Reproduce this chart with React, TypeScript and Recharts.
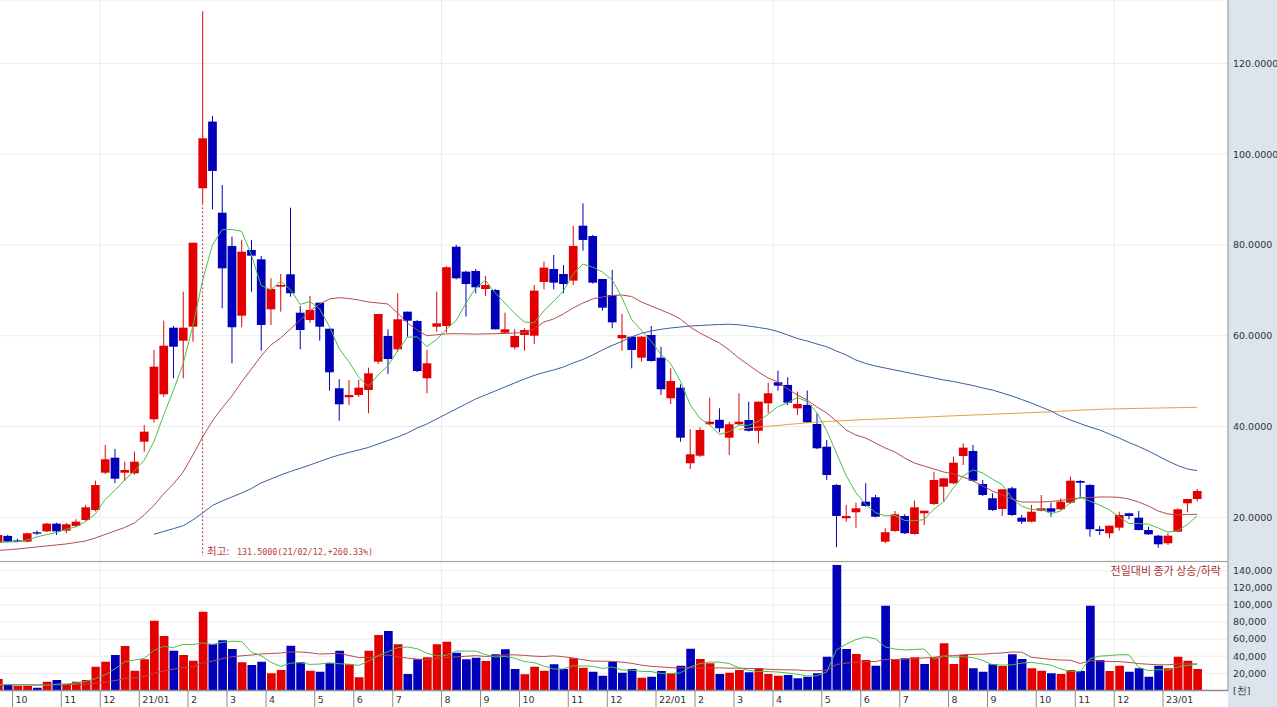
import React from 'react';
import { ComposedChart, Bar, Line, XAxis, YAxis, CartesianGrid, ReferenceLine, Cell } from 'recharts';

// ---------- categories (weekly, Friday dates) ----------
const weeks = [
  '2020/09/18','2020/09/25',
  '2020/10/02','2020/10/09','2020/10/16','2020/10/23','2020/10/30',
  '2020/11/06','2020/11/13','2020/11/20','2020/11/27',
  '2020/12/04','2020/12/11','2020/12/18','2020/12/25',
  '2021/01/01','2021/01/08','2021/01/15','2021/01/22','2021/01/29',
  '2021/02/05','2021/02/12','2021/02/19','2021/02/26',
  '2021/03/05','2021/03/12','2021/03/19','2021/03/26',
  '2021/04/02','2021/04/09','2021/04/16','2021/04/23','2021/04/30',
  '2021/05/07','2021/05/14','2021/05/21','2021/05/28',
  '2021/06/04','2021/06/11','2021/06/18','2021/06/25',
  '2021/07/02','2021/07/09','2021/07/16','2021/07/23','2021/07/30',
  '2021/08/06','2021/08/13','2021/08/20','2021/08/27',
  '2021/09/03','2021/09/10','2021/09/17','2021/09/24',
  '2021/10/01','2021/10/08','2021/10/15','2021/10/22','2021/10/29',
  '2021/11/05','2021/11/12','2021/11/19','2021/11/26',
  '2021/12/03','2021/12/10','2021/12/17','2021/12/24','2021/12/31',
  '2022/01/07','2022/01/14','2022/01/21','2022/01/28',
  '2022/02/04','2022/02/11','2022/02/18','2022/02/25',
  '2022/03/04','2022/03/11','2022/03/18','2022/03/25',
  '2022/04/01','2022/04/08','2022/04/15','2022/04/22','2022/04/29',
  '2022/05/06','2022/05/13','2022/05/20','2022/05/27',
  '2022/06/03','2022/06/10','2022/06/17','2022/06/24',
  '2022/07/01','2022/07/08','2022/07/15','2022/07/22','2022/07/29',
  '2022/08/05','2022/08/12','2022/08/19','2022/08/26',
  '2022/09/02','2022/09/09','2022/09/16','2022/09/23','2022/09/30',
  '2022/10/07','2022/10/14','2022/10/21','2022/10/28',
  '2022/11/04','2022/11/11','2022/11/18','2022/11/25',
  '2022/12/02','2022/12/09','2022/12/16','2022/12/23','2022/12/30',
  '2023/01/06','2023/01/13','2023/01/20','2023/01/27',
];

// ---------- price series ----------
const openPrices = [
  14400, 15900, 14900, 14625, 16700, 16900, 18600, 17060, 18100, 19400,
  21600, 29825, 33130, 29825, 29690, 36650, 41590, 47100, 61770, 58900,
  61990, 92480, 107180, 87100, 79770, 64410, 78890, 76830, 65820, 70800,
  73530, 65070, 63470, 67270, 61550, 48420, 46440, 46950, 48040, 54280,
  59940, 57010, 65300, 63240, 50620, 61990, 62150, 79610, 74110, 74260,
  70290, 70070, 60670, 57450, 60160, 60010, 71830, 74700, 73600, 72140,
  84240, 81960, 72500, 68970, 59430, 59780, 55160, 60160, 55160, 46220,
  48550, 31900, 33570, 40490, 41480, 37540, 40490, 41430, 39060, 45110,
  49740, 49140, 44010, 44740, 40550, 35550, 27120, 19780, 21100, 23440,
  24410, 14630, 16980, 20290, 16320, 20880, 22930, 26740, 27490, 33500,
  34610, 27340, 24190, 21830, 26390, 19910, 19030, 21450, 21980, 21760,
  23220, 28000, 27120, 17360, 16480, 17710, 20880, 19910, 17200, 15950,
  14270, 16830, 23080, 24030,
];
const highPrices = [
  16300, 16100, 15300, 16600, 17100, 18750, 18800, 18800, 19560, 22710,
  28060, 35930, 35050, 32250, 34450, 40300, 56860, 63310, 62140, 69700,
  80490, 131500, 108400, 93200, 81820, 81100, 81100, 77560, 72650, 73600,
  88200, 66540, 68750, 67270, 61550, 50400, 50250, 50250, 52960, 64780,
  61420, 69350, 65300, 63500, 56860, 69700, 75300, 80000, 74300, 74700,
  73160, 70300, 65070, 61410, 61640, 71170, 76310, 77780, 75580, 84170,
  89170, 82200, 72500, 74480, 64780, 59780, 59900, 62140, 57580, 52820,
  49300, 39390, 39830, 46350, 44010, 41060, 47320, 45470, 45470, 49650,
  52300, 50840, 47670, 47900, 42910, 37030, 27300, 22710, 23220, 27490,
  24910, 17580, 21370, 20660, 23660, 21450, 30050, 28590, 33350, 36300,
  35930, 28220, 25290, 26170, 26740, 20510, 22710, 24910, 23220, 24190,
  28940, 28200, 27300, 18080, 18150, 21230, 21010, 21390, 17930, 16100,
  16480, 21980, 24030, 26230,
];
const lowPrices = [
  14200, 14500, 14700, 14500, 16100, 16700, 16100, 16500, 17900, 19200,
  21300, 29500, 27490, 28000, 29400, 34450, 40840, 46570, 50620, 50620,
  58680, 89170, 87850, 66040, 53920, 61860, 69700, 56700, 62370, 65300,
  68600, 57000, 62870, 58900, 47900, 41280, 44740, 46500, 42910, 53800,
  51570, 56500, 59780, 52000, 47320, 60890, 60670, 72400, 64230, 69350,
  68750, 61410, 60370, 57000, 56700, 58170, 70220, 70220, 69350, 71170,
  78730, 71500, 65520, 61640, 56700, 52820, 54290, 54300, 46950, 44960,
  36650, 30640, 33300, 40300, 38730, 33730, 40300, 38900, 36300, 42910,
  47900, 44740, 42540, 40800, 35000, 28220, 13390, 19030, 17710, 22300,
  20000, 14270, 16800, 16300, 16200, 18300, 22700, 23440, 27300, 31520,
  27900, 24700, 21400, 20290, 20300, 18520, 18900, 21300, 20130, 21600,
  23000, 24190, 15730, 16100, 15370, 17050, 19560, 17100, 16100, 13300,
  13900, 16700, 21100, 23440,
];
const closePrices = [
  16100, 14650, 14800, 16475, 16400, 18600, 16900, 18460, 19030, 22200,
  27100, 32780, 28500, 30420, 32250, 38860, 53180, 57800, 57580, 61770,
  80490, 103500, 96300, 74850, 61860, 78510, 77630, 62370, 70290, 71170,
  69350, 61260, 65670, 61990, 51940, 44890, 46950, 48550, 51720, 64780,
  54870, 63620, 63310, 52220, 53920, 62730, 75090, 72650, 71390, 70670,
  71170, 61410, 61410, 59940, 61260, 69940, 75000, 71690, 71390, 79770,
  81100, 71690, 66180, 62950, 60160, 56860, 59780, 54430, 48200, 50030,
  37540, 33880, 39230, 41060, 39610, 40490, 41060, 39060, 45470, 47320,
  48990, 45250, 44960, 40930, 35200, 29320, 20290, 20290, 21980, 22490,
  20130, 16700, 20660, 16480, 22200, 21450, 28220, 28590, 32030, 35350,
  28060, 24910, 21610, 26170, 20510, 19030, 21230, 21980, 21230, 23440,
  28060, 27620, 17360, 16980, 18150, 20510, 20290, 17200, 16250, 14050,
  15950, 21760, 24030, 25790,
];

// moving averages of price
const priceMA5 = [
  14500, 14550, 14600, 15000, 15685, 16185, 16635, 17367, 17878, 19038,
  20738, 23914, 25922, 28200, 30210, 32562, 36642, 42502, 47934, 53838,
  62164, 72228, 79928, 83382, 83400, 83004, 77830, 71044, 70132, 71994,
  70162, 66888, 67548, 65888, 62042, 57150, 54288, 50864, 48810, 51378,
  53374, 56708, 59660, 59760, 57588, 59160, 61454, 63322, 67156, 70506,
  72194, 69458, 67210, 64920, 63038, 62792, 65510, 67566, 69856, 73558,
  75790, 75128, 74026, 72338, 68416, 63568, 61186, 58836, 55886, 53860,
  49996, 44816, 41776, 40348, 38264, 38854, 40290, 40256, 41138, 42680,
  44380, 45218, 46398, 45490, 43066, 39132, 34140, 29206, 25416, 22874,
  21036, 20318, 20392, 19292, 19234, 19498, 21802, 23388, 26498, 29128,
  30450, 29788, 28392, 27220, 24252, 22446, 21710, 21784, 20796, 21382,
  23188, 24466, 23542, 22692, 21634, 20124, 18658, 18626, 18480, 17660,
  16748, 17042, 18408, 20316,
];
const priceMA20 = [
  12690, 12840, 13020, 13240, 13460, 13680, 13900, 14120, 14450, 14780,
  15440, 16210, 16980, 17750, 18740, 20510, 22600, 25130, 27340, 29980,
  33730, 37690, 41210, 44080, 46720, 49810, 52670, 55530, 57960, 59500,
  61480, 63460, 65450, 66990, 68090, 68380, 68200, 67870, 67430, 67210,
  66990, 65000, 62800, 61260, 60000, 60200, 60400, 60450, 60400, 60350,
  60400, 60450, 60500, 60600, 60710, 61480, 63020, 63690, 64790, 66110,
  67210, 68090, 68530, 68860, 68970, 68640, 67430, 66550, 65670, 64790,
  63690, 61920, 60600, 59500, 58400, 56860, 55090, 53550, 52010, 50690,
  49810, 48260, 46940, 45840, 44300, 42980, 41210, 39230, 38130, 37470,
  36370, 35270, 34390, 33060, 31960, 31300, 30640, 29980, 29540, 28880,
  28000, 26900, 25790, 24910, 24030, 23370, 23370, 23370, 23480, 23700,
  24030, 24250, 24360, 24470, 24470, 24400, 24030, 23370, 22490, 21390,
  20730, 20510, 20620, 20660,
];
const priceMA60 = [
  ...Array(16).fill(null),
  16250, 16870, 17490, 18130, 19410, 20950, 22600, 23590, 24470, 25350,
  26340, 27560, 28440, 29320, 30090, 30800, 31520, 32290, 33060, 33720,
  34280, 34830, 35380, 36150, 36920, 37690, 38570, 39670, 40550, 41660,
  42760, 43860, 44960, 46060, 46940, 47820, 48700, 49590, 50470, 51240,
  51900, 52450, 53110, 53990, 54760, 55750, 56860, 57850, 58730, 59720,
  60530, 61040, 61420, 61700, 61920, 62140, 62250, 62360, 62470, 62520,
  62410, 62140, 61810, 61480, 60930, 60160, 59390, 58840, 58180, 57580,
  56640, 55750, 54650, 53880, 53330, 52890, 52450, 52010, 51570, 51130,
  50690, 50250, 49920, 49470, 49040, 48490, 48040, 47380, 46720, 45950,
  45180, 44300, 43420, 42320, 41440, 40660, 39890, 39230, 38350, 37470,
  36480, 35600, 34610, 33500, 32400, 31410, 30640, 30270,
];
const priceMA120 = [
  ...Array(76).fill(null),
  39340, 39670, 39890, 40050, 40220, 40440, 40620, 40820, 40990, 41100,
  41210, 41320, 41430, 41540, 41620, 41700, 41800, 41880, 41970, 42060,
  42160, 42260, 42350, 42440, 42530, 42610, 42700, 42790, 42880, 42970,
  43060, 43150, 43250, 43360, 43480, 43590, 43690, 43790, 43850, 43900,
  43950, 43990, 44030, 44070, 44110, 44150, 44190, 44230,
];

// ---------- volume series (thousands, shown as [천]) ----------
const volumes = [
  13340, 6320, 5150, 5150, 3180, 10200, 12160, 7100, 10200, 12160,
  27730, 33570, 41400, 51930, 23050, 36370, 81520, 63620, 46430, 41400,
  34740, 92050, 53920, 58600, 48420, 32870, 29710, 33570, 20000, 23860,
  52280, 32870, 23050, 21870, 31700, 46430, 30530, 15320, 46430, 64790,
  69470, 53920, 19180, 36370, 38710, 53920, 56960, 44100, 36370, 38250,
  34390, 42220, 48070, 25030, 18830, 27730, 23050, 30530, 25030, 37540,
  26550, 21870, 17190, 33570, 20700, 25030, 14850, 16020, 22690, 20000,
  28890, 48770, 36720, 31700, 19180, 20700, 23860, 21170, 25850, 19180,
  17190, 18010, 14150, 16020, 20000, 39420, 146670, 48420, 42570, 35560,
  28890, 99070, 35560, 37540, 38710, 30880, 38710, 55080, 30880, 41400,
  25850, 21870, 30530, 28540, 42220, 36720, 25850, 23050, 20000, 19180,
  23860, 22690, 99070, 35560, 22690, 28890, 21870, 25850, 16020, 28890,
  25850, 39420, 34740, 25030,
];
// r = close above previous close, b = below (전일대비 종가 상승/하락)
const volumeDirection = (
  'rbrrbrbrrr' + 'rrbrrrrrbr' + 'rrbbbrbbrr' + 'bbrbbbrrrr' + 'brbbrrrbbb' +
  'rbbbrrrbbr' + 'rbbbbbrbbr' + 'bbrrbrrbrr' + 'rbbbbbbbrr' + 'bbrbrbrrrr' +
  'bbbrbbrrbr' + 'rbbbrrbbbb' + 'rrrr'
).split('');
const volumeMA5 = [
  7000, 6900, 6800, 6700, 6628, 6000, 7168, 7558, 8568, 10364,
  13870, 18152, 25012, 33358, 35536, 37264, 46854, 51298, 50198, 53868,
  53542, 55648, 53708, 56142, 57546, 57172, 44704, 40634, 32914, 28002,
  31884, 32516, 30412, 30786, 32354, 31184, 30716, 29170, 34082, 40700,
  45308, 49986, 50758, 48746, 43530, 40420, 41028, 46012, 46012, 45920,
  42014, 39066, 39860, 37592, 33708, 32376, 28542, 25034, 25034, 28776,
  28540, 28304, 25636, 27344, 23976, 23672, 22268, 22034, 19858, 19718,
  20490, 27274, 31414, 33216, 33052, 31414, 26432, 23322, 22152, 22152,
  21450, 20280, 18876, 16910, 17074, 21520, 47252, 54106, 59416, 62528,
  60422, 50902, 48330, 47324, 47954, 48352, 36280, 40184, 38852, 39390,
  38384, 35016, 30106, 29638, 29802, 31976, 32772, 31276, 29568, 24960,
  22388, 21756, 36960, 40072, 40774, 41780, 41616, 26972, 23064, 24304,
  23696, 27206, 28984, 30786,
];
const volumeMA20 = [
  6370, 6380, 6340, 6300, 6160, 6370, 6680, 6730, 6940, 7250,
  8340, 9710, 11480, 13780, 14630, 16150, 19930, 22810, 24830, 26600,
  27670, 31960, 34390, 37070, 39330, 40460, 41340, 42660, 43150, 43740,
  44970, 44930, 44010, 42510, 42940, 43450, 40900, 38480, 38480, 39650,
  41390, 39480, 37740, 36630, 36150, 37200, 38560, 39090, 39910, 40630,
  39730, 40200, 41450, 41610, 40970, 40030, 39660, 40420, 39350, 37980,
  35840, 34240, 34140, 34000, 33100, 31650, 29550, 28140, 27460, 26550,
  26270, 26600, 26030, 26360, 26380, 26030, 26070, 25600, 25640, 24730,
  24260, 24060, 23910, 23030, 23000, 23720, 30310, 31930, 32920, 33700,
  33700, 36220, 36160, 36450, 37430, 37940, 38680, 40370, 40630, 41740,
  42170, 42360, 43180, 43810, 44920, 44780, 38740, 37470, 36350, 35530,
  35280, 31460, 34630, 34530, 33730, 33630, 32790, 31330, 30590, 29960,
  29960, 30840, 31050, 30870,
];

// ---------- ticks / markers / texts ----------
const priceTicks = [20000, 40000, 60000, 80000, 100000, 120000];
const volumeTicks = [0, 20000, 40000, 60000, 80000, 100000, 120000, 140000];
const gridWeeks = ['2020/12/04', '2021/08/06', '2022/04/01', '2022/12/02'];
const highWeek = '2021/02/12';
const highLabelPrefix = '최고:';
const highLabelValue = '131.5000(21/02/12,+260.33%)';
const volumeLegend = '전일대비 종가 상승/하락';

// ---------- styling ----------
const RED = '#e40000';
const BLUE = '#0000bb';
const MA5_COLOR = '#4dbb4d';
const MA20_COLOR = '#b44c4c';
const MA60_COLOR = '#3c5ea6';
const MA120_COLOR = '#e6a23c';
const GRID = '#ececec';
const AXIS = '#8c8c8c';
const FONT = 'DejaVu Sans, Verdana, sans-serif';
const KFONT = '"Noto Sans CJK KR", "DejaVu Sans", sans-serif';

const priceData = weeks.map((week, i) => ({
  week,
  open: openPrices[i],
  high: highPrices[i],
  low: lowPrices[i],
  close: closePrices[i],
  ma5: priceMA5[i],
  ma20: priceMA20[i],
  ma60: priceMA60[i],
  ma120: priceMA120[i],
}));

const volumeData = weeks.map((week, i) => ({
  week,
  volume: volumes[i],
  dir: volumeDirection[i],
  ma5: volumeMA5[i],
  ma20: volumeMA20[i],
}));

const monthTicks = weeks.filter((w, i) => i > 0 && w.slice(5, 7) !== weeks[i - 1].slice(5, 7));

const Candle = (props: any) => {
  const { x, y, width, height, payload } = props;
  if (!payload || height == null) return null;
  const { open, close, high, low } = payload;
  const color = close >= open ? RED : BLUE;
  const cx = x + width / 2;
  const k = high > low ? height / (high - low) : 0;
  const top = y + (high - Math.max(open, close)) * k;
  const bot = y + (high - Math.min(open, close)) * k;
  const bw = 8.7;
  return (
    <g>
      <line x1={cx} x2={cx} y1={y} y2={y + height} stroke={color} strokeWidth={1} />
      <rect x={cx - bw / 2} y={top} width={bw} height={Math.max(bot - top, 1.3)} fill={color} />
    </g>
  );
};

const MonthTick = (props: any) => {
  const { x, y, payload } = props;
  const half = typeof payload?.offset === 'number' && payload.offset > 0 ? payload.offset : 4.875;
  const bx = x - half;
  const parts = String(payload.value).split('/');
  const label = parts[1] === '01' ? `${parts[0].slice(2)}/01` : String(Number(parts[1]));
  return (
    <g>
      <line x1={bx} x2={bx} y1={y} y2={y + 17} stroke={AXIS} strokeWidth={1} />
      <text x={bx + 3} y={y + 13} fontSize={9.5} fontFamily={FONT} fill="#333">
        {label}
      </text>
    </g>
  );
};

const formatPrice = (v: number) => (v / 1000).toFixed(4);
const formatVolume = (v: number) => (v === 0 ? '[천]' : v.toLocaleString('en-US'));

export default function App() {
  return (
    <div
      style={{
        position: 'absolute',
        left: 0,
        top: 0,
        width: 1277,
        height: 707,
        overflow: 'hidden',
        background: '#ffffff',
        fontFamily: FONT,
      }}
    >
      {/* right axis panel background */}
      <div style={{ position: 'absolute', left: 1228, top: 0, width: 49, height: 707, background: '#dce4ee' }} />

      {/* price panel */}
      <div style={{ position: 'absolute', left: -7, top: 0 }}>
        <ComposedChart width={1284} height={561} data={priceData} margin={{ top: 0, right: 0, bottom: 0, left: 0 }}>
          <CartesianGrid vertical={false} stroke={GRID} />
          <XAxis dataKey="week" hide padding={{ left: 0, right: 26 }} />
          <YAxis
            orientation="right"
            width={49}
            domain={[10370, 133960]}
            allowDataOverflow
            ticks={priceTicks}
            interval={0}
            tickFormatter={formatPrice}
            tickLine={false}
            tickSize={0}
            tickMargin={5}
            axisLine={{ stroke: AXIS }}
            tick={{ fontSize: 9.5, fontFamily: FONT, fill: '#333' }}
          />
          {gridWeeks.map((w) => (
            <ReferenceLine key={w} x={w} position="start" stroke={GRID} />
          ))}
          <ReferenceLine
            segment={[
              { x: highWeek, y: 89170 },
              { x: highWeek, y: 11500 },
            ]}
            stroke="#b03c3c"
            strokeDasharray="2 2"
          />
          <Bar
            dataKey={(d: any) => [d.low, d.high]}
            shape={(p: any) => <Candle {...p} />}
            isAnimationActive={false}
          />
          <Line dataKey="ma120" stroke={MA120_COLOR} strokeWidth={1} dot={false} activeDot={false} isAnimationActive={false} />
          <Line dataKey="ma60" stroke={MA60_COLOR} strokeWidth={1} dot={false} activeDot={false} isAnimationActive={false} />
          <Line dataKey="ma20" stroke={MA20_COLOR} strokeWidth={1} dot={false} activeDot={false} isAnimationActive={false} />
          <Line dataKey="ma5" stroke={MA5_COLOR} strokeWidth={1} dot={false} activeDot={false} isAnimationActive={false} />
        </ComposedChart>
      </div>

      {/* panel separator */}
      <div style={{ position: 'absolute', left: 0, top: 561, width: 1228, height: 1, background: '#a4a4a4' }} />

      {/* volume panel */}
      <div style={{ position: 'absolute', left: -7, top: 562 }}>
        <ComposedChart width={1284} height={145} data={volumeData} margin={{ top: 0, right: 0, bottom: 0, left: 0 }}>
          <CartesianGrid vertical={false} stroke={GRID} />
          <XAxis
            dataKey="week"
            height={16.6}
            padding={{ left: 0, right: 26 }}
            ticks={monthTicks}
            interval={0}
            tick={(p: any) => <MonthTick {...p} />}
            tickLine={false}
            tickSize={0}
            tickMargin={0}
            axisLine={{ stroke: AXIS, strokeWidth: 1.5 }}
          />
          <YAxis
            orientation="right"
            width={49}
            domain={[0, 150170]}
            allowDataOverflow
            ticks={volumeTicks}
            interval={0}
            tickFormatter={formatVolume}
            tickLine={false}
            tickSize={0}
            tickMargin={5}
            axisLine={{ stroke: AXIS }}
            tick={{ fontSize: 9.5, fontFamily: FONT, fill: '#333' }}
          />
          {gridWeeks.map((w) => (
            <ReferenceLine key={w} x={w} position="start" stroke={GRID} />
          ))}
          <Bar dataKey="volume" barSize={8.7} isAnimationActive={false}>
            {volumeData.map((d) => (
              <Cell key={d.week} fill={d.dir === 'r' ? RED : BLUE} />
            ))}
          </Bar>
          <Line dataKey="ma20" stroke={MA20_COLOR} strokeWidth={1} dot={false} activeDot={false} isAnimationActive={false} />
          <Line dataKey="ma5" stroke={MA5_COLOR} strokeWidth={1} dot={false} activeDot={false} isAnimationActive={false} />
        </ComposedChart>
      </div>

      {/* texts */}
      <div
        style={{
          position: 'absolute',
          left: 207,
          top: 543,
          lineHeight: '14px',
          color: '#b83c3c',
          whiteSpace: 'nowrap',
        }}
      >
        <span style={{ fontFamily: KFONT, fontSize: 10.5, display: 'inline-block', width: 30 }}>{highLabelPrefix}</span>
        <span style={{ fontFamily: '"DejaVu Sans Mono", monospace', fontSize: 8.4 }}>{highLabelValue}</span>
      </div>
      <div
        style={{
          position: 'absolute',
          right: 56,
          top: 563,
          fontSize: 11,
          lineHeight: '15px',
          color: '#a83434',
          fontFamily: KFONT,
          whiteSpace: 'nowrap',
        }}
      >
        {volumeLegend}
      </div>
    </div>
  );
}
